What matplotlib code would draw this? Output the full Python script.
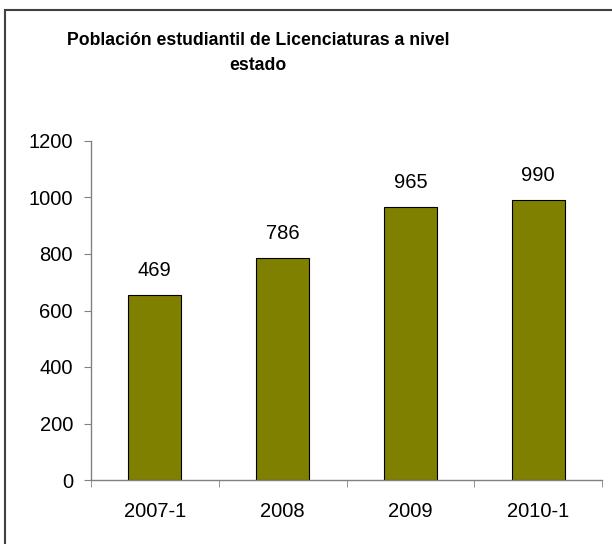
import matplotlib.pyplot as plt
from matplotlib.patches import Rectangle
import numpy as np

categories = ['2007-1', '2008', '2009', '2010-1']
bar_heights = [655, 786, 965, 990]
bar_labels = ['469', '786', '965', '990']
y_ticks = [0, 200, 400, 600, 800, 1000, 1200]

plt.rcParams['font.family'] = ['Liberation Sans', 'DejaVu Sans']

fig = plt.figure(figsize=(6.12, 5.44), dpi=100)
W, H = 612, 544
ax = fig.add_axes([91 / W, 1 - 480 / H, (602 - 91) / W, (480 - 141) / H])

x = np.arange(len(categories))
ax.bar(x, bar_heights, width=0.415, color='#808000', edgecolor='black', linewidth=0.8)
for xi, h, lab in zip(x, bar_heights, bar_labels):
    ax.text(xi, h + 88, lab, ha='center', va='center', fontsize=14.5)

ax.set_xlim(-0.5, len(categories) - 0.5)
ax.set_ylim(0, 1200)
ax.set_yticks(y_ticks)
ax.set_xticks(x)
ax.set_xticklabels(categories)
ax.set_xticks(np.arange(-0.5, len(categories)), minor=True)
ax.tick_params(axis='x', which='major', length=0, pad=16, labelsize=14.5)
ax.tick_params(axis='x', which='minor', length=5, color='#808080', direction='out')
ax.tick_params(axis='y', length=5, color='#808080', pad=8, labelsize=14.5)

for side in ['top', 'right']:
    ax.spines[side].set_visible(False)
for side in ['left', 'bottom']:
    ax.spines[side].set_color('#808080')
    ax.spines[side].set_linewidth(1.0)

fig.text(258 / W, 1 - 53 / H, 'Población estudiantil de Licenciaturas a nivel\nestado',
         ha='center', va='center', fontsize=12.7, fontweight='bold', linespacing=1.55)

fig.patches.append(Rectangle((4.5 / W, -0.1), 1.2, 1 - 10.5 / H + 0.1,
                             transform=fig.transFigure, fill=False,
                             edgecolor='#404040', linewidth=1.5))

fig.savefig('out.png', dpi=100)
